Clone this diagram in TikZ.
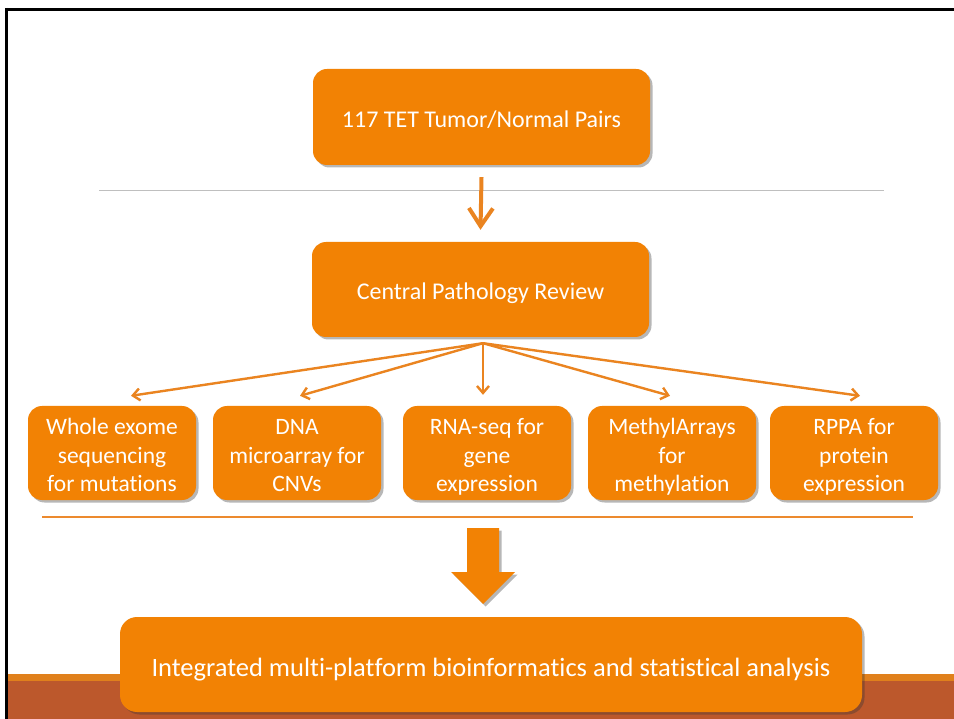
\documentclass[tikz,border=0pt]{standalone}
\usepackage{fontspec}
\setmainfont{Carlito}[Ligatures=CommonOff]
\usetikzlibrary{arrows.meta,shadows,calc}
\definecolor{boxorange}{RGB}{242,130,4}
\definecolor{lineorange}{RGB}{234,132,32}
\definecolor{rulegray}{RGB}{191,191,191}
\definecolor{ruleorange}{RGB}{236,138,46}
\definecolor{barorange}{RGB}{224,128,28}
\definecolor{barbrown}{RGB}{188,88,44}

\begin{document}
\begin{tikzpicture}[x=1pt,y=-1pt,
  box/.style={fill=boxorange, rounded corners=14pt, text=white, align=center,
    inner sep=0pt,
    drop shadow={shadow xshift=2.5pt,shadow yshift=-2.5pt,opacity=0.35,fill=black!80}},
  % one-line boxes: fixed line box so the text sits like in the slide
  bigbox/.style={box, minimum width=337pt, minimum height=95pt,
    font=\fontsize{24}{28.5}\selectfont, text height=26.85pt, text depth=6.46pt},
  % three-line boxes: the text box's baseline is its last line
  smallbox/.style={box, minimum width=168pt, minimum height=94pt,
    font=\fontsize{23.5}{28.3}\selectfont, text height=83pt, text depth=6.3pt},
  mainarrow/.style={draw=lineorange, line width=4pt,
    -{Straight Barb[length=18pt,width=24pt]}},
  fanarrow/.style={draw=lineorange, line width=2.4pt,
    -{Straight Barb[length=7pt,width=12pt]}}
]
\useasboundingbox (0,0) rectangle (954,719);
\fill[white] (0,0) rectangle (954,719);

% slide frame
\draw[line width=3pt] (5,9.5) -- (954,9.5);
\draw[line width=2.5pt] (6.25,8) -- (6.25,719);

% footer band
\fill[barorange] (7.5,674) rectangle (954,681);
\fill[barbrown] (7.5,681) rectangle (954,719);

% separators
\draw[rulegray, line width=1.3pt] (99,190.5) -- (884,190.5);
\draw[ruleorange, line width=1.4pt] (42,517) -- (913,517);

% top stages
\node[bigbox, minimum height=96pt] (tet) at (481.5,117) {117 TET Tumor/Normal Pairs};
\node[bigbox] (cpr) at (480.5,289.5) {Central Pathology Review};

% platforms
\node[smallbox] (wes)  at (112,453) {Whole exome\\sequencing\\for mutations};
\node[smallbox] (dna)  at (297,453) {DNA\\microarray for\\CNVs};
\node[smallbox] (rna)  at (487,453) {RNA-seq for\\gene\\expression};
\node[smallbox] (meth) at (672,453) {MethylArrays\\for\\methylation};
\node[smallbox] (rppa) at (854,453) {RPPA for\\protein\\expression};

% final analysis
\node[box, rounded corners=17pt, minimum width=742pt, minimum height=95pt,
  font=\fontsize{26.5}{30}\selectfont, text height=30.5pt, text depth=6.8pt]
  (integ) at (491,664.5)
  {Integrated multi-platform bioinformatics and statistical analysis};

% connectors
\draw[mainarrow] ([yshift=-12pt]tet.south) -- ([yshift=12pt]cpr.north);
\coordinate (fan) at ([xshift=2.5pt,yshift=-6pt]cpr.south);
\draw[fanarrow] (fan) -- ([xshift=19pt,yshift=10pt]wes.north);
\draw[fanarrow] (fan) -- ([xshift=3pt,yshift=10pt]dna.north);
\draw[fanarrow] (fan) -- ([yshift=11pt]fan |- rna.north);
\draw[fanarrow] (fan) -- ([xshift=-2pt,yshift=10pt]meth.north);
\draw[fanarrow] (fan) -- ([xshift=6pt,yshift=10pt]rppa.north);

% block arrow into the analysis stage
\fill[boxorange, drop shadow={shadow xshift=2.5pt,shadow yshift=-2.5pt,opacity=0.35,fill=black!80}]
  (467,528) -- (499,528) -- (499,572) -- (515,572) -- (483,604) -- (451,572) -- (467,572) -- cycle;
\end{tikzpicture}
\end{document}
